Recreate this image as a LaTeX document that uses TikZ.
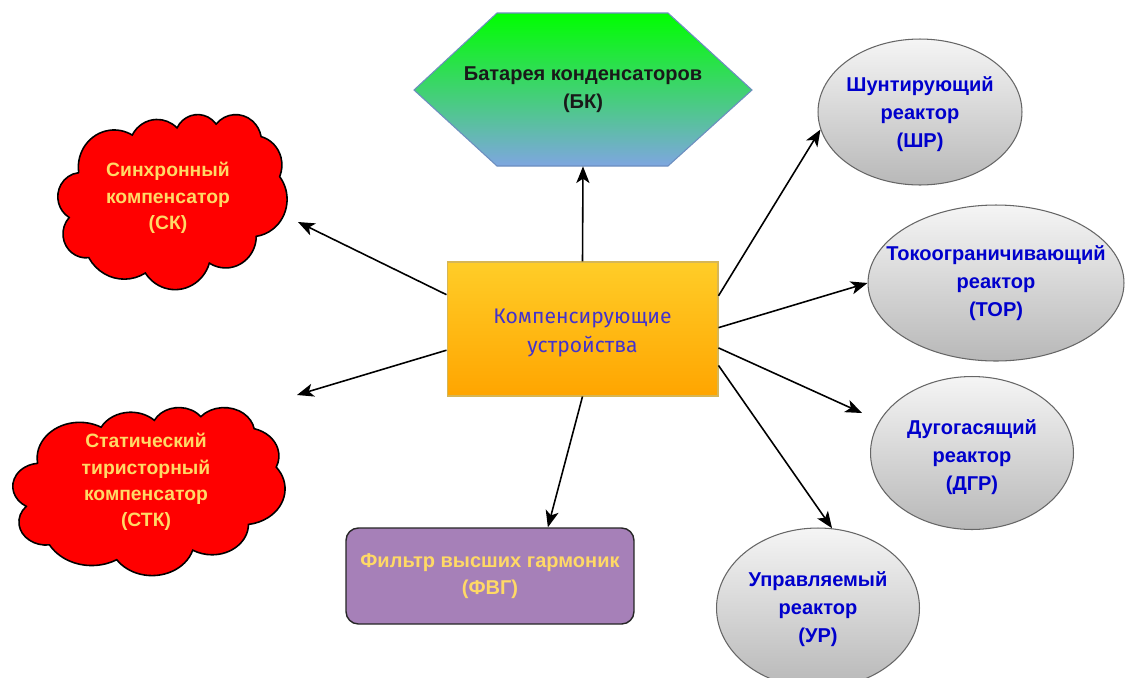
\documentclass[tikz,border=0pt]{standalone}
\usepackage{fontspec}
\setmainfont{Liberation Sans}
\newfontfamily\ctrfont{Fira Sans}
\usetikzlibrary{shapes.geometric,arrows.meta,calc}
\definecolor{cloudred}{HTML}{FF0000}
\definecolor{yeltext}{HTML}{FFD966}
\definecolor{bluetext}{HTML}{0000CC}
\definecolor{ctrtext}{HTML}{4433CC}
\definecolor{ctrtop}{HTML}{FFCD28}
\definecolor{ctrbot}{HTML}{FFA500}
\definecolor{ctrline}{HTML}{D6B656}
\definecolor{hextop}{HTML}{00FF00}
\definecolor{hexbot}{HTML}{7EA6E0}
\definecolor{hexline}{HTML}{6C8EBF}
\definecolor{fvgfill}{HTML}{A680B8}
\definecolor{elltop}{HTML}{F5F5F5}
\definecolor{ellbot}{HTML}{B8B8B8}
\definecolor{ellline}{HTML}{666666}
% visual angle -> parametric angle on an ellipse
\pgfmathdeclarefunction{vpa}{3}{\begingroup\pgfmathparse{atan2((#1)*sin(#3),(#2)*cos(#3))}\pgfmathsmuggle\pgfmathresult\endgroup}
\pgfmathdeclarefunction{vpd}{4}{\begingroup\pgfmathparse{mod(vpa(#1,#2,#3+#4)-vpa(#1,#2,#3)+720,360)}\pgfmathsmuggle\pgfmathresult\endgroup}
\newcommand\oarc[4]{arc[x radius=#1,y radius=#2,start angle={vpa(#1,#2,#3)},delta angle={vpd(#1,#2,#3,#4)}]}
\newcommand\officecloud{(9.028,33.264)
  \oarc{15.632}{21.273}{-190.4875}{123.7805}
  \oarc{12.345}{16.822}{-144.1024}{89.9452}
  \oarc{10.104}{13.762}{-145.8079}{99.7230}
  \oarc{11.243}{15.266}{-130.9861}{117.2417}
  \oarc{12.345}{16.836}{-78.7089}{109.0269}
  \oarc{15.683}{21.343}{-46.2673}{130.2690}
  \oarc{13.391}{18.211}{0.6250}{114.0333}
  \oarc{15.630}{21.331}{22.4516}{115.1726}
  \oarc{17.870}{24.405}{66.2426}{75.7110}
  \oarc{10.093}{13.699}{-274.9421}{146.7356}
  \oarc{10.058}{13.762}{-246.8285}{152.5189}
  -- cycle}
\begin{document}
\begin{tikzpicture}[x=0.02cm,y=-0.02cm,
  arr/.style={draw=black,line width=0.9pt,-{Stealth[length=9.5pt,width=7.5pt,inset=2.5pt]}},
  ellbox/.style={ellipse,draw=ellline,line width=0.6pt,top color=elltop,bottom color=ellbot,inner sep=0pt},
  etext/.style={align=center,font=\bfseries\fontsize{11.4}{16}\selectfont,text=bluetext},
  cloudline/.style={draw=black,line width=0.9pt,fill=cloudred},
  ctext/.style={align=center,font=\bfseries\fontsize{11}{15}\selectfont,text=yeltext}]
\useasboundingbox[fill=white] (0,0) rectangle (1130,677);

% hexagon
\path[draw=hexline,line width=0.6pt,top color=hextop,bottom color=hexbot]
  (414,90) -- (497,13) -- (668,13) -- (752,90) -- (668,166) -- (497,166) -- cycle;
\node[minimum width=6.76cm,minimum height=3.06cm,align=center,
  font=\bfseries\fontsize{11.4}{16}\selectfont,text=black!90] (bk) at (583,89.5)
  {Батарея конденсаторов\\(БК)};

% centre
\node[draw=ctrline,line width=0.6pt,top color=ctrtop,bottom color=ctrbot,
  minimum width=5.42cm,minimum height=2.68cm] (c) at (582.5,329) {};
\node[align=center,font=\ctrfont\fontsize{12}{16}\selectfont,text=ctrtext] (cT) at (582.5,333)
  {Компенсирующие\\устройства};

% clouds
\begin{scope}[shift={(58,114)},x=0.0458cm,y=-0.0350cm]
  \path[cloudline] \officecloud;
\end{scope}
\node[minimum width=4.58cm,minimum height=3.5cm] (sk) at (172,202) {};
\node[ctext] (skT) at (168,198) {Синхронный\\компенсатор\\(СК)};
\begin{scope}[shift={(13,407)},x=0.0544cm,y=-0.0336cm]
  \path[cloudline] \officecloud;
\end{scope}
\node[minimum width=5.44cm,minimum height=3.36cm] (stk) at (149,491) {};
\node[ctext] (stkT) at (146,482) {Статический\\тиристорный\\компенсатор\\(СТК)};

% filter
\node[draw=black!85,line width=0.8pt,fill=fvgfill,rounded corners=7pt,
  minimum width=5.76cm,minimum height=1.92cm,align=center,
  font=\bfseries\fontsize{11.4}{15}\selectfont,text=yeltext] (fvg) at (490,576)
  {Фильтр высших гармоник\\(ФВГ)};

% ellipses
\node[ellbox,minimum width=4.08cm,minimum height=2.92cm] (shr) at (920,112) {};
\node[etext] (shrT) at (920,114) {Шунтирующий\\реактор\\(ШР)};
\node[ellbox,minimum width=5.12cm,minimum height=3.12cm] (tor) at (996,283) {};
\node[etext] (torT) at (996,283) {Токоограничивающий\\реактор\\(ТОР)};
\node[ellbox,minimum width=4.06cm,minimum height=3.06cm] (dgr) at (972,453) {};
\node[etext] (dgrT) at (972,457) {Дугогасящий\\реактор\\(ДГР)};
\node[ellbox,minimum width=4.06cm,minimum height=3.2cm] (ur) at (818,608) {};
\node[etext] (urT) at (818,609) {Управляемый\\реактор\\(УР)};

% arrow end points near the clouds
\coordinate (skTip) at (298,222);
\coordinate (stkTip) at (297,395);
\coordinate (dgrTip) at (862,413);

% arrows
\draw[arr] (c.north) -- (bk.south);
\draw[arr] ($(c.north west)!0.246!(c.south west)$) -- (skTip);
\draw[arr] ($(c.north west)!0.657!(c.south west)$) -- (stkTip);
\draw[arr] (c.south) -- ($(fvg.north west)!0.70!(fvg.north east)$);
\draw[arr] ($(c.north east)!0.254!(c.south east)$) -- (shr.190);
\draw[arr] ($(c.north east)!0.49!(c.south east)$) -- (tor.west);
\draw[arr] ($(c.north east)!0.64!(c.south east)$) -- (dgrTip);
\draw[arr] ($(c.north east)!0.77!(c.south east)$) -- (ur.80);
\end{tikzpicture}
\end{document}
